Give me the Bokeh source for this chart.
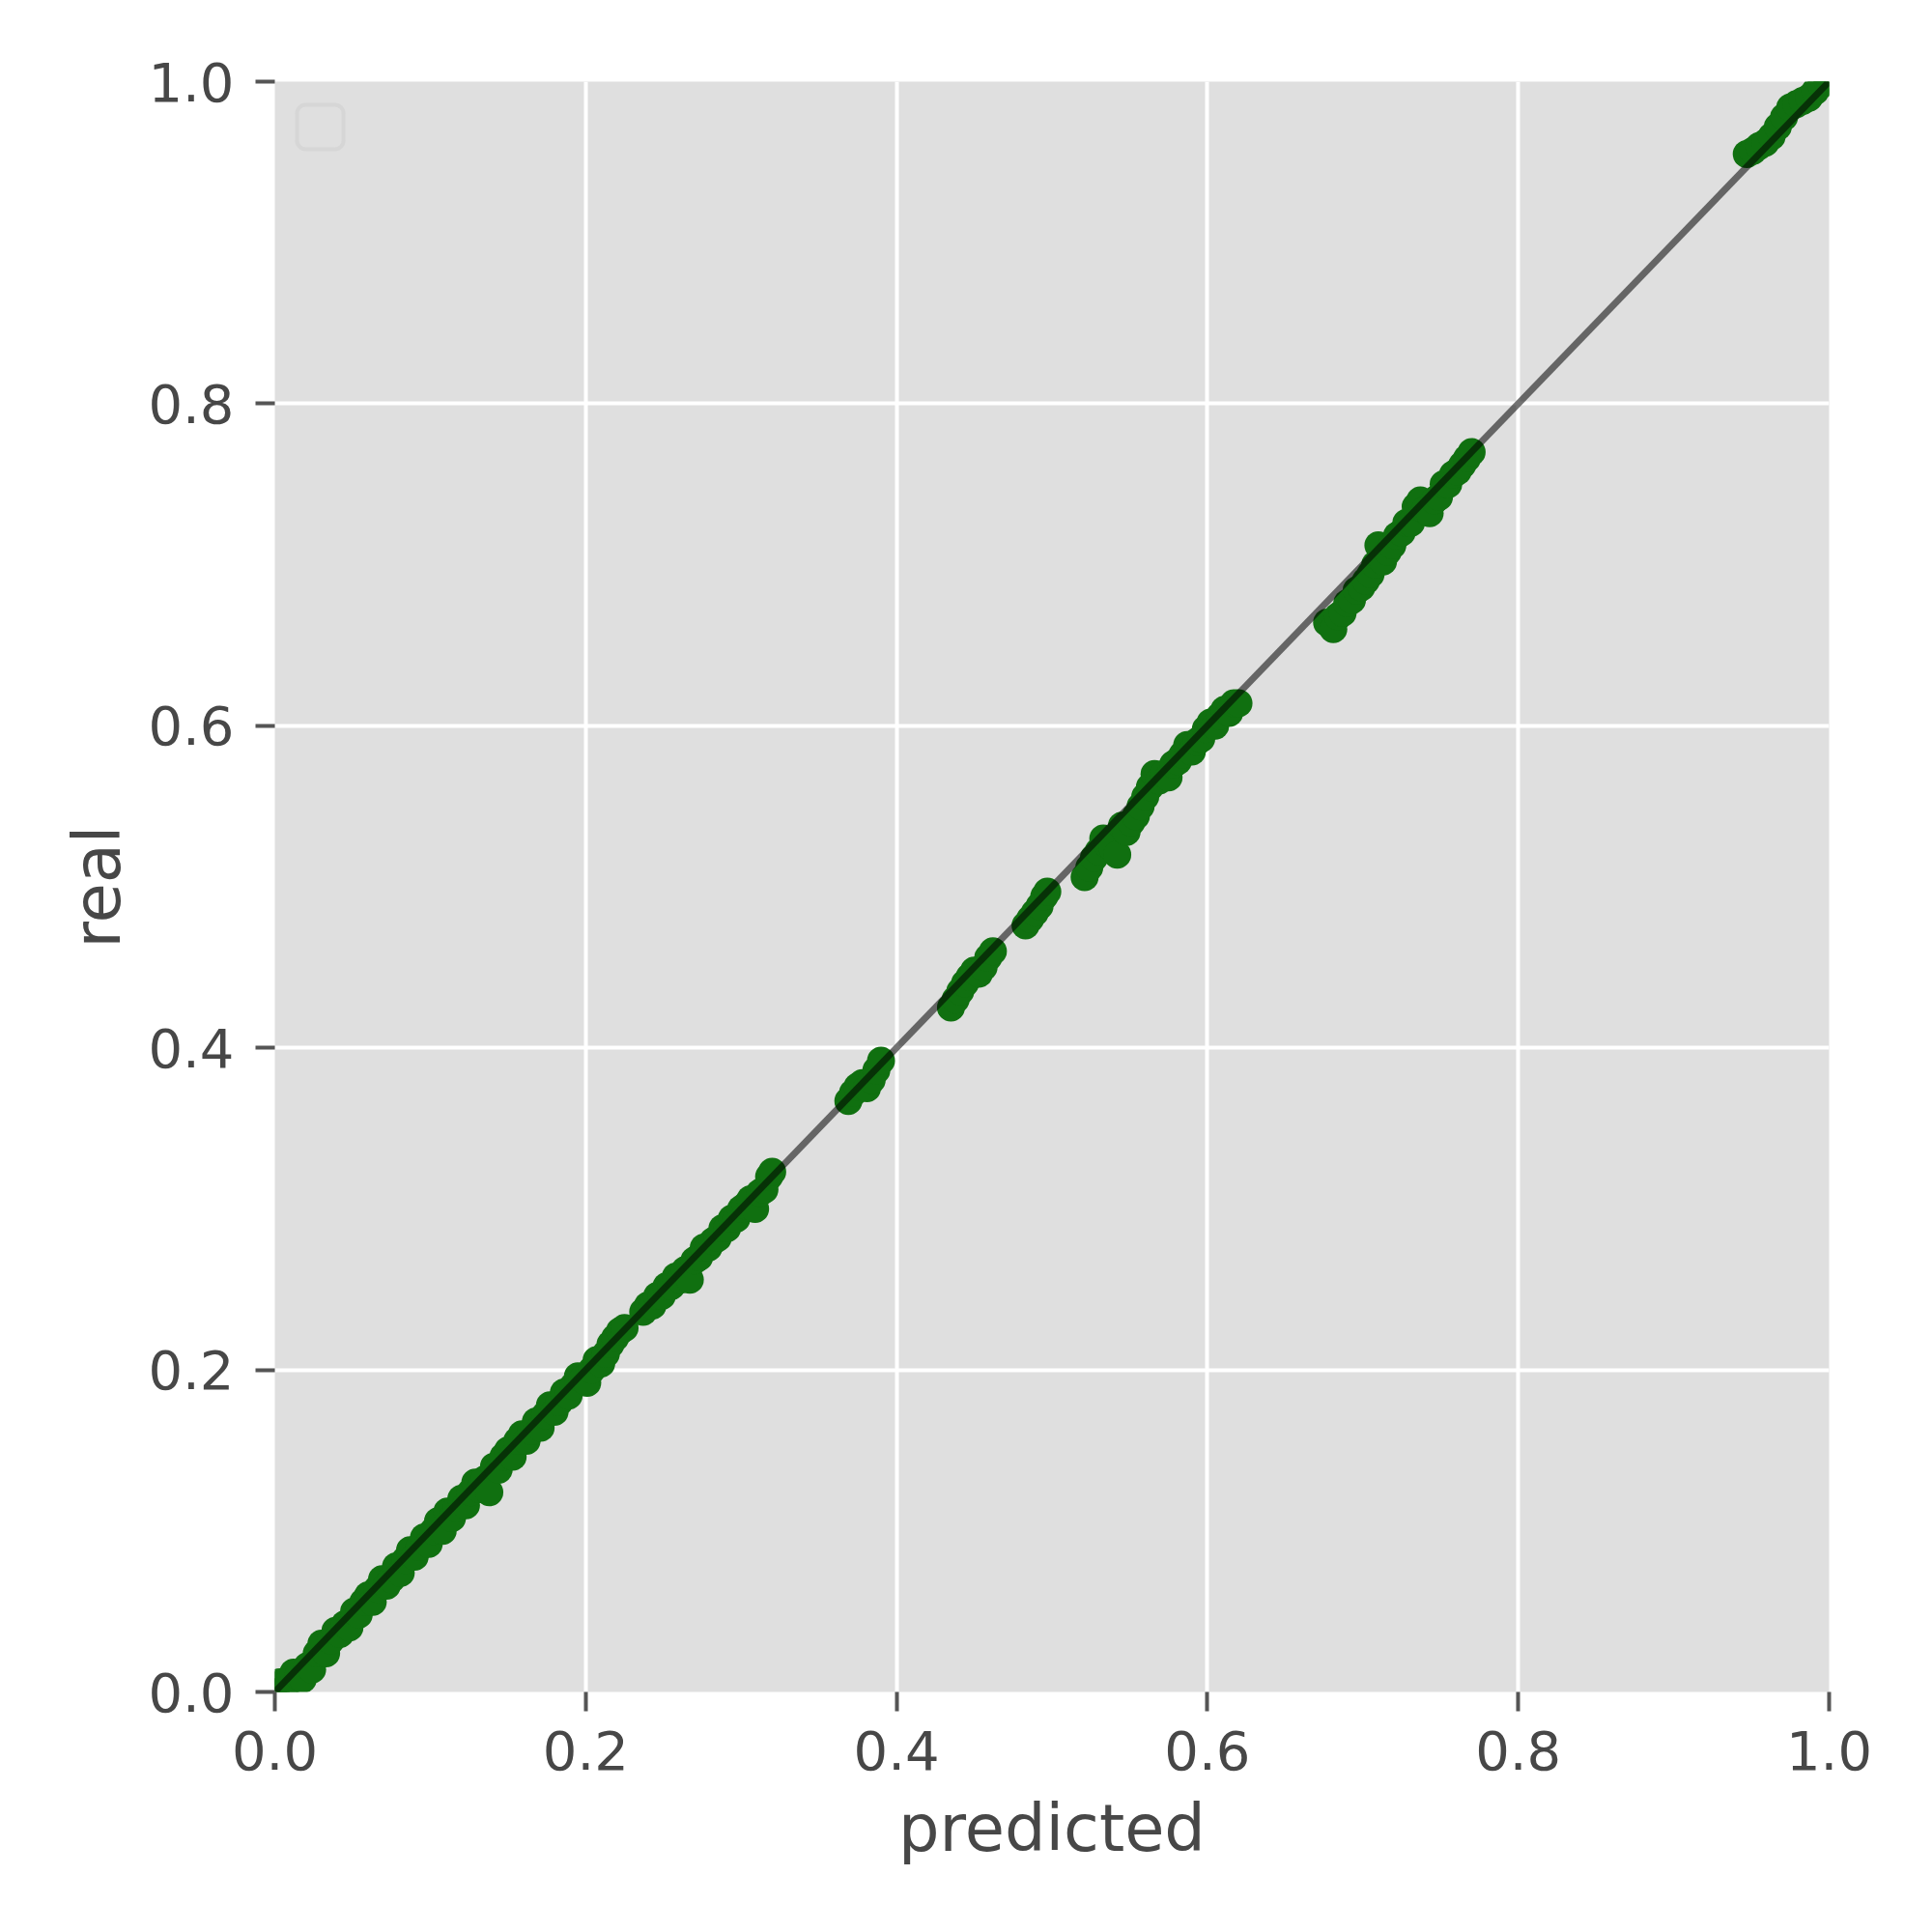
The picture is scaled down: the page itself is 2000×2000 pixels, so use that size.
from bokeh.plotting import figure
from bokeh.models import Range1d, FixedTicker, BoxAnnotation, CustomJSTickFormatter
from bokeh.embed import file_html
from bokeh.resources import INLINE

# ---- data ----
pred_a = [0.000, 0.003, 0.006, 0.009, 0.012, 0.015, 0.018, 0.021, 0.024, 0.027,
          0.030, 0.033, 0.036, 0.039, 0.042, 0.045, 0.048, 0.051, 0.054, 0.057,
          0.060, 0.063, 0.066, 0.069, 0.072, 0.075, 0.078, 0.081, 0.084, 0.087,
          0.090, 0.093, 0.096, 0.099, 0.102, 0.105, 0.108, 0.111, 0.114, 0.117,
          0.120, 0.123, 0.126, 0.129, 0.132, 0.135, 0.138, 0.141, 0.144, 0.147,
          0.150, 0.153, 0.156, 0.159, 0.162, 0.165, 0.168, 0.171, 0.174, 0.177,
          0.180, 0.183, 0.186, 0.189, 0.192, 0.195, 0.198, 0.201, 0.204, 0.207,
          0.210, 0.213, 0.216, 0.219, 0.222, 0.225]
real_a = [0.004, 0.006, 0.002, 0.006, 0.012, 0.010, 0.008, 0.016, 0.014, 0.024,
          0.030, 0.024, 0.032, 0.038, 0.036, 0.042, 0.040, 0.050, 0.048, 0.056,
          0.060, 0.056, 0.064, 0.070, 0.066, 0.070, 0.078, 0.074, 0.082, 0.088,
          0.084, 0.090, 0.096, 0.092, 0.100, 0.106, 0.100, 0.112, 0.108, 0.114,
          0.120, 0.116, 0.124, 0.130, 0.126, 0.132, 0.124, 0.140, 0.138, 0.146,
          0.150, 0.146, 0.156, 0.160, 0.156, 0.162, 0.168, 0.164, 0.172, 0.178,
          0.174, 0.180, 0.186, 0.184, 0.190, 0.196, 0.194, 0.192, 0.200, 0.206,
          0.204, 0.210, 0.216, 0.220, 0.224, 0.226]

pred_b = [0.237, 0.240, 0.243, 0.246, 0.249, 0.252, 0.255, 0.258, 0.261, 0.264,
          0.267, 0.270, 0.273, 0.276, 0.279, 0.282, 0.285, 0.288, 0.291, 0.294,
          0.297, 0.300, 0.303, 0.306, 0.309, 0.312, 0.315, 0.318, 0.320]
real_b = [0.236, 0.240, 0.240, 0.246, 0.246, 0.252, 0.252, 0.258, 0.256, 0.262,
          0.256, 0.268, 0.270, 0.276, 0.276, 0.280, 0.282, 0.288, 0.288, 0.294,
          0.294, 0.300, 0.302, 0.306, 0.300, 0.310, 0.312, 0.320, 0.323]

pred_c = [0.369, 0.372, 0.375, 0.378, 0.381, 0.384, 0.387, 0.390]
real_c = [0.367, 0.372, 0.376, 0.378, 0.375, 0.380, 0.386, 0.392]

pred_d = [0.435, 0.438, 0.441, 0.444, 0.447, 0.450, 0.453, 0.456, 0.459, 0.462]
real_d = [0.425, 0.430, 0.435, 0.440, 0.444, 0.448, 0.446, 0.450, 0.456, 0.460]

pred_e = [0.483, 0.486, 0.489, 0.492, 0.495, 0.497]
real_e = [0.476, 0.480, 0.484, 0.488, 0.494, 0.497]

pred_f = [0.521, 0.524, 0.527, 0.530, 0.533, 0.536, 0.539, 0.542, 0.545, 0.548,
          0.551, 0.554, 0.557, 0.560, 0.563, 0.566, 0.569, 0.572, 0.575, 0.578,
          0.581, 0.584, 0.587, 0.590, 0.593, 0.596, 0.599, 0.602, 0.605, 0.608,
          0.611, 0.614, 0.617, 0.620]
real_f = [0.506, 0.512, 0.518, 0.522, 0.530, 0.526, 0.524, 0.520, 0.538, 0.534,
          0.540, 0.544, 0.550, 0.556, 0.562, 0.570, 0.566, 0.570, 0.568, 0.576,
          0.578, 0.582, 0.588, 0.584, 0.590, 0.592, 0.598, 0.602, 0.600, 0.606,
          0.610, 0.608, 0.614, 0.614]

pred_g = [0.677, 0.681, 0.684, 0.687, 0.690, 0.693, 0.696, 0.699, 0.702, 0.705,
          0.708, 0.710, 0.713, 0.716, 0.719, 0.722, 0.725, 0.728, 0.731, 0.734,
          0.737, 0.740, 0.743, 0.746, 0.749, 0.752, 0.755, 0.758, 0.761, 0.764,
          0.767, 0.770]
real_g = [0.664, 0.660, 0.668, 0.670, 0.676, 0.678, 0.684, 0.686, 0.690, 0.694,
          0.700, 0.712, 0.702, 0.708, 0.712, 0.718, 0.720, 0.726, 0.726, 0.736,
          0.740, 0.734, 0.732, 0.740, 0.742, 0.750, 0.750, 0.756, 0.758, 0.762,
          0.766, 0.770]

pred_h = [0.947, 0.951, 0.955, 0.959, 0.963, 0.967, 0.971, 0.975, 0.979, 0.983,
          0.987, 0.991, 0.995, 0.999]
real_h = [0.955, 0.957, 0.960, 0.962, 0.966, 0.972, 0.978, 0.984, 0.986, 0.988,
          0.990, 0.994, 0.998, 1.000]

predicted = pred_a + pred_b + pred_c + pred_d + pred_e + pred_f + pred_g + pred_h
real = real_a + real_b + real_c + real_d + real_e + real_f + real_g + real_h

diag = [0.0, 1.0]
ticks = [0.0, 0.2, 0.4, 0.6, 0.8, 1.0]

FONT = "DejaVu Sans"
TXT = "#474747"

p = figure(frame_width=1609, frame_height=1667,
           min_border_left=284, min_border_right=91,
           min_border_top=84, min_border_bottom=233,
           x_range=Range1d(0, 1), y_range=Range1d(0, 1),
           output_backend="svg", toolbar_location=None,
           background_fill_color="#dfdfdf", border_fill_color="white")
p.outline_line_color = None

p.scatter(predicted, real, size=29, fill_color="#107010", line_color=None)
p.line(diag, diag, line_color="black", line_alpha=0.55, line_width=7)

# empty legend frame
p.add_layout(BoxAnnotation(left=0.0143, right=0.0442, bottom=0.958, top=0.9856,
                           fill_color=None, line_color="#c4c4c4", line_width=4,
                           border_radius=9))

fmt = CustomJSTickFormatter(code="return tick.toFixed(1);")
for ax in (p.xaxis[0], p.yaxis[0]):
    ax.ticker = FixedTicker(ticks=ticks)
    ax.formatter = fmt
    ax.axis_line_color = None
    ax.major_tick_line_color = "#555555"
    ax.major_tick_line_width = 4
    ax.major_tick_out = 20
    ax.major_tick_in = 0
    ax.minor_tick_line_color = None
    ax.major_label_text_font = FONT
    ax.major_label_text_font_size = "56px"
    ax.major_label_text_color = TXT
    ax.axis_label_text_font = FONT
    ax.axis_label_text_font_size = "67px"
    ax.axis_label_text_color = TXT
    ax.axis_label_text_font_style = "normal"

p.xaxis.axis_label = "predicted"
p.yaxis.axis_label = "real"
p.xaxis.major_label_standoff = 20
p.yaxis.major_label_standoff = 22
p.xaxis.axis_label_standoff = 19
p.yaxis.axis_label_standoff = 10

for g in p.grid:
    g.ticker = FixedTicker(ticks=ticks)
    g.grid_line_color = "white"
    g.grid_line_width = 4

open("out.html", "w").write(file_html(p, INLINE))
